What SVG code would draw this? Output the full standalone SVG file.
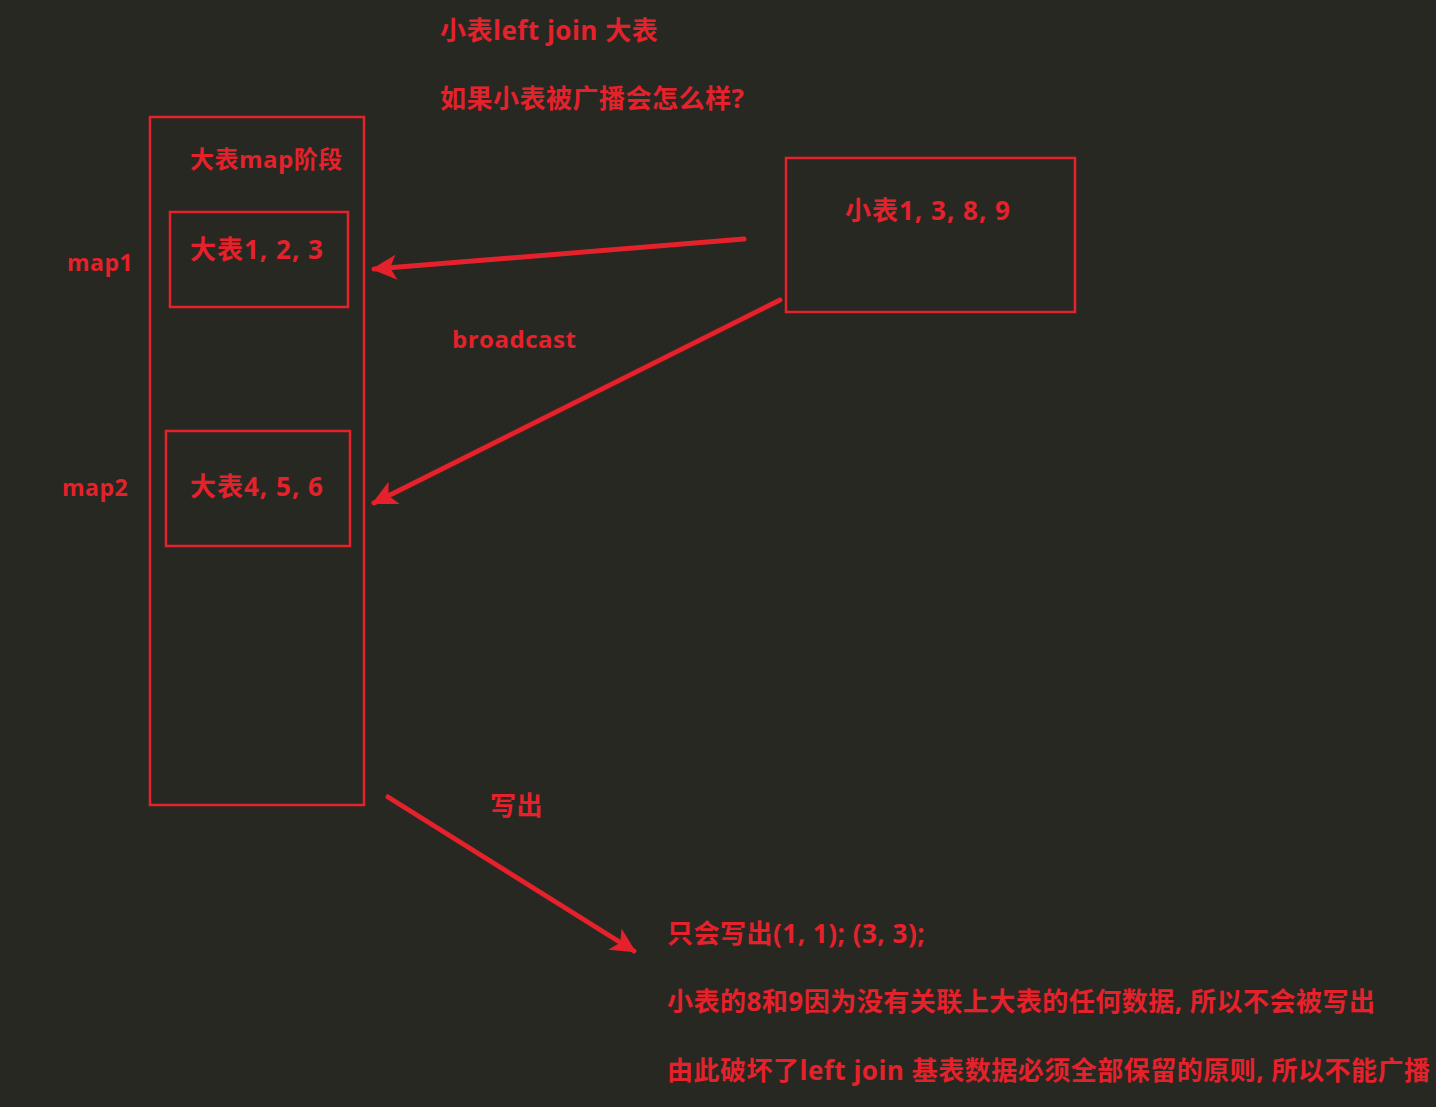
<svg xmlns="http://www.w3.org/2000/svg" width="1436" height="1107" viewBox="0 0 1436 1107">
<defs>
<style>
.t{font-family:"Open Sans","Noto Sans CJK SC",sans-serif;font-weight:bold;fill:#e5212b;font-size:26px;letter-spacing:0.5px}
.b{letter-spacing:1px}
.box{fill:none;stroke:#e5212b;stroke-width:2.5}
.ln{stroke:#e5212b;stroke-width:5;fill:none;stroke-linecap:round}
</style>
<marker id="ah" viewBox="0 0 10 10" refX="9" refY="5" markerWidth="6" markerHeight="5" orient="auto" markerUnits="strokeWidth">
<path d="M0,0 L10,5 L0,10 L2.5,5 Z" fill="#e5212b"/>
</marker>
</defs>
<rect width="1436" height="1107" fill="#272822"/>
<text class="t" x="440" y="40">小表left join 大表</text>
<text class="t" x="440" y="108">如果小表被广播会怎么样?</text>
<g id="bigtable">
<rect class="box" x="150" y="117" width="214" height="688"/>
<text class="t" x="190" y="168" style="font-size:24px">大表map阶段</text>
</g>
<g id="map1">
<rect class="box" x="170" y="212" width="178" height="95"/>
<text class="t b" x="190" y="259">大表1, 2, 3</text>
</g>
<text class="t" x="67" y="271" style="font-size:23px">map1</text>
<g id="map2">
<rect class="box" x="166" y="431" width="184" height="115"/>
<text class="t b" x="190" y="496">大表4, 5, 6</text>
</g>
<text class="t" x="62" y="496" style="font-size:23px">map2</text>
<g id="smalltable">
<rect class="box" x="786" y="158" width="289" height="154"/>
<text class="t b" x="845" y="220">小表1, 3, 8, 9</text>
</g>
<g id="connectors">
<line class="ln" x1="744" y1="239" x2="374" y2="269" marker-end="url(#ah)"/>
<line class="ln" x1="780" y1="300" x2="374" y2="503" marker-end="url(#ah)"/>
<line class="ln" x1="388" y1="797" x2="634" y2="951" marker-end="url(#ah)"/>
</g>
<text class="t" x="452" y="348" style="font-size:24px">broadcast</text>
<text class="t" x="490" y="815">写出</text>
<text class="t" x="667" y="943">只会写出(1, 1); (3, 3);</text>
<text class="t" x="667" y="1011">小表的8和9因为没有关联上大表的任何数据, 所以不会被写出</text>
<text class="t" x="667" y="1080">由此破坏了left join 基表数据必须全部保留的原则, 所以不能广播</text>
</svg>
